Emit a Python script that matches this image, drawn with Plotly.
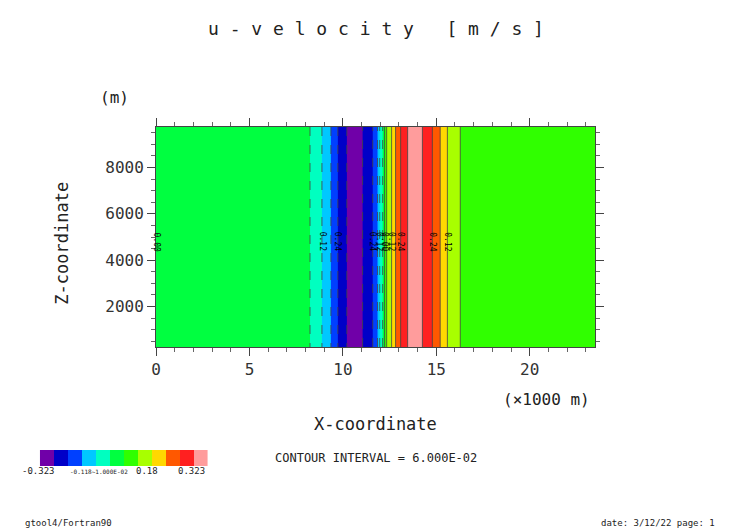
import numpy as np
import plotly.graph_objects as go

# u-velocity profile along x (x in 1000 m), uniform in z
x_pts = [0.0, 0.3, 8.0, 8.24, 8.88, 9.36, 9.73, 10.21, 10.6, 11.06, 11.60, 11.86, 11.97, 12.13,
         12.23, 12.34, 12.61, 12.82, 13.09, 13.46, 13.85, 14.26, 14.79, 15.21, 15.59, 16.28, 17.0, 23.5]
u_pts = [0.0, -0.03, -0.03, -0.06, -0.12, -0.18, -0.24, -0.30, -0.323, -0.30, -0.24, -0.18, -0.12, -0.06,
         0.0, 0.06, 0.12, 0.18, 0.24, 0.30, 0.323, 0.30, 0.24, 0.18, 0.12, 0.06, 0.03, 0.03]
z_pts = [250, 9750]
label_levels = [-0.24, -0.12, 0.0, 0.12, 0.24]
band_colors = ["#7000a8", "#0000c8", "#0040ff", "#00c8ff", "#00ffc0", "#00ff40",
               "#30ff00", "#a8ff00", "#ffd800", "#ff5800", "#ff2020", "#ff9c9c"]
cbar_labels = ["-0.323", "-0.118~1.000E-02", "0.18", "0.323"]

OX, OY = 11, 8  # page offset compensation
W, H = 752, 532
def px(x): return (x - OX) / W
def py(y): return 1 - (y - OY) / H

xx = np.linspace(0, 23.5, 941)
uu = np.interp(xx, x_pts, u_pts)
Z = np.tile(uu, (len(z_pts), 1))

n = len(band_colors)
cs = []
for i, c in enumerate(band_colors):
    cs.append([i / n, c]); cs.append([(i + 1) / n, c])

fig = go.Figure()
fig.add_trace(go.Contour(x=xx, y=z_pts, z=Z, colorscale=cs, zmin=-0.36, zmax=0.36,
                         contours=dict(start=-0.3, end=0.3, size=0.06, coloring="fill"),
                         line=dict(width=0), showscale=False, hoverinfo="skip"))
fig.add_trace(go.Contour(x=xx, y=z_pts, z=Z, contours=dict(start=-0.3, end=-0.06, size=0.06, coloring="none"),
                         line=dict(color="#444", width=0.8, dash="dash"), showscale=False))
fig.add_trace(go.Contour(x=xx, y=z_pts, z=Z, contours=dict(start=0.0, end=0.3, size=0.06, coloring="none"),
                         line=dict(color="#444", width=0.8), showscale=False))
for xv, uv in zip(x_pts, u_pts):
    if any(abs(uv - l) < 1e-9 for l in label_levels):
        fig.add_annotation(x=xv, y=4800, text=f"{abs(uv):.2f}", textangle=90,
                           showarrow=False, font=dict(size=8, family="DejaVu Sans Mono", color="black"))
fig.add_trace(go.Heatmap(z=[list(range(n))], x=list(range(n)), y=[0], colorscale=cs, zmin=-0.5, zmax=n - 0.5,
                         showscale=False, xaxis="x2", yaxis="y2", hoverinfo="skip"))

tf = dict(size=16, family="DejaVu Sans Mono", color="#333")
fig.update_layout(
    width=W, height=H, margin=dict(l=0, r=0, t=0, b=0), paper_bgcolor="white", plot_bgcolor="white",
    showlegend=False,
    xaxis=dict(domain=[px(155), px(597)], range=[0, 23.5], tickvals=[0, 5, 10, 15, 20], ticks="outside",
               ticklen=8, tickfont=tf, showline=True, linecolor="#444", mirror="ticks", showgrid=True,
               gridcolor="rgba(255,255,255,0.35)", zeroline=False,
               minor=dict(dtick=1, ticks="outside", ticklen=4, tickcolor="#666")),
    yaxis=dict(domain=[py(347), py(127)], range=[250, 9750], tickvals=[2000, 4000, 6000, 8000], ticks="outside",
               ticklen=8, tickfont=tf, showline=True, linecolor="#444", mirror="ticks", showgrid=True,
               gridcolor="rgba(255,255,255,0.35)", zeroline=False,
               minor=dict(dtick=500, ticks="outside", ticklen=4, tickcolor="#666")),
    xaxis2=dict(domain=[px(38), px(207)], range=[-0.5, n - 0.5], anchor="y2", showticklabels=False, ticks="",
                showgrid=False, zeroline=False),
    yaxis2=dict(domain=[py(466), py(450)], range=[-0.5, 0.5], anchor="x2", showticklabels=False, ticks="",
                showgrid=False, zeroline=False),
)
ann = [
    dict(x=376, y=28, text="u-velocity [m/s]".replace("", " ").strip(), size=18),
    dict(x=113, y=97, text="(m)", size=16),
    dict(x=376, y=424, text="X-coordinate", size=17),
    dict(x=548, y=399, text="(×1000 m)", size=16),
    dict(x=376, y=458, text="CONTOUR INTERVAL = 6.000E-02", size=12),
    dict(x=37, y=471, text=cbar_labels[0], size=9),
    dict(x=98, y=471, text=cbar_labels[1], size=6),
    dict(x=146, y=471, text=cbar_labels[2], size=9),
    dict(x=191, y=471, text=cbar_labels[3], size=9),
    dict(x=67, y=523, text="gtool4/Fortran90", size=9),
    dict(x=660, y=523, text="date: 3/12/22 page: 1", size=9),
]
for a in ann:
    fig.add_annotation(x=px(a["x"]), y=py(a["y"]), xref="paper", yref="paper", text=a["text"], showarrow=False,
                       xanchor="center", yanchor="middle",
                       font=dict(size=a["size"], family="DejaVu Sans Mono", color="#222"))
fig.add_annotation(x=px(60), y=py(243), xref="paper", yref="paper", text="Z-coordinate", textangle=-90,
                   showarrow=False, xanchor="center", yanchor="middle",
                   font=dict(size=17, family="DejaVu Sans Mono", color="#222"))
fig.write_html("out.html")
